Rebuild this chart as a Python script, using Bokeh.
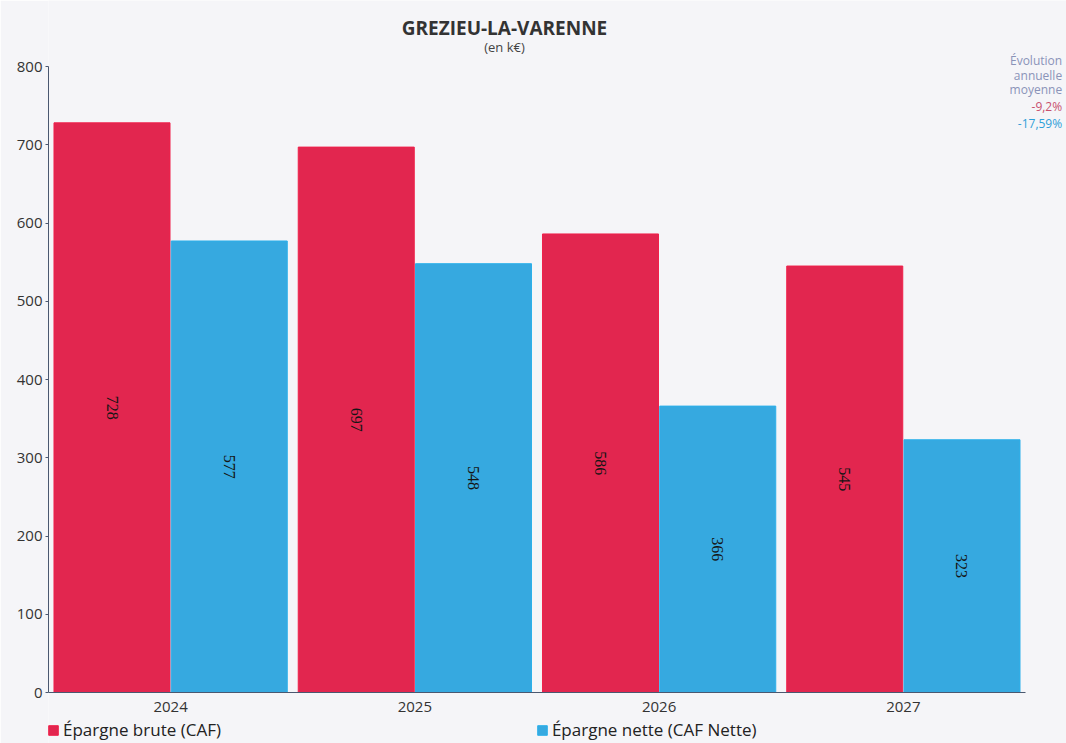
import math
from bokeh.plotting import figure
from bokeh.models import (ColumnDataSource, Range1d, LabelSet, Legend, LegendItem, Label,
                          FixedTicker)
from bokeh.embed import file_html
from bokeh.resources import INLINE

years = ["2024", "2025", "2026", "2027"]
brute = [728, 697, 586, 545]
nette = [577, 548, 366, 323]
y_ticks = [0, 100, 200, 300, 400, 500, 600, 700, 800]
series_names = ["Épargne brute (CAF)", "Épargne nette (CAF Nette)"]
title_text = "GREZIEU-LA-VARENNE"
subtitle_text = "(en k€)"
evol_title = ["Évolution", "annuelle", "moyenne"]
evol_values = ["-9,2%", "-17,59%"]

RED = "#e2264f"
BLUE = "#36a9e0"
FONT = "Open Sans"
BG = "#f5f5f8"
AXIS = "#4a5870"

# category positions on a numeric axis (one unit per year)
centers = [i + 0.5 for i in range(len(years))]
OFF = 0.24
src = ColumnDataSource(dict(
    xb=[c - OFF for c in centers], xn=[c + OFF for c in centers],
    brute=brute, nette=nette,
    brute_mid=[v / 2 for v in brute], nette_mid=[v / 2 for v in nette],
    brute_txt=[str(v) for v in brute], nette_txt=[str(v) for v in nette],
))

n = len(years)
# frame covers the canvas except the left y-label strip; axis bounds keep axes at data extent
x_end = n + 41 / 244.25
y_end = 800 + 66 / 0.7825
y_start = -51 / 0.7825

p = figure(width=1066, height=743, x_range=Range1d(0, x_end), y_range=Range1d(y_start, y_end),
           output_backend="svg", toolbar_location=None,
           min_border_left=48, min_border_right=0, min_border_top=0, min_border_bottom=0,
           background_fill_color=BG, border_fill_color=BG)
p.outline_line_color = None
p.grid.visible = False

r1 = p.vbar(x="xb", top="brute", width=0.475, source=src,
            fill_color=RED, line_color="#f0204a", line_width=1)
r2 = p.vbar(x="xn", top="nette", width=0.475, source=src,
            fill_color=BLUE, line_color="#2cb0ea", line_width=1)

for xcol, ycol, tcol in [("xb", "brute_mid", "brute_txt"), ("xn", "nette_mid", "nette_txt")]:
    p.add_layout(LabelSet(x=xcol, y=ycol, text=tcol, source=src,
                          angle=-math.pi / 2, text_align="center", text_baseline="middle",
                          text_font=FONT, text_font_size="16px", text_color="#151515"))

p.yaxis.ticker = FixedTicker(ticks=y_ticks)
p.yaxis.bounds = (0, 800)
p.yaxis.axis_line_color = AXIS
p.yaxis.major_tick_line_color = AXIS
p.yaxis.major_tick_out = 3
p.yaxis.major_tick_in = 0
p.yaxis.minor_tick_line_color = None
p.yaxis.major_label_text_font = FONT
p.yaxis.major_label_text_font_size = "15px"
p.yaxis.major_label_text_color = "#333333"
p.yaxis.major_label_standoff = 3

p.xaxis.fixed_location = 0
p.xaxis.bounds = (0, n)
p.xaxis.ticker = FixedTicker(ticks=centers)
p.xaxis.major_label_overrides = {c: y for c, y in zip(centers, years)}
p.xaxis.axis_line_color = AXIS
p.xaxis.major_tick_line_color = None
p.xaxis.minor_tick_line_color = None
p.xaxis.major_label_text_font = FONT
p.xaxis.major_label_text_font_size = "15px"
p.xaxis.major_label_text_color = "#333333"
p.xaxis.major_label_standoff = 3

# Titles
p.add_layout(Label(x=1.867, y=849, text=title_text, text_align="center",
                   text_baseline="middle", text_font=FONT, text_font_size="19px",
                   text_font_style="bold", text_color="#333333"))
p.add_layout(Label(x=1.867, y=825, text=subtitle_text, text_align="center",
                   text_baseline="middle", text_font=FONT, text_font_size="13px",
                   text_color="#444444"))

# Evolution annotation (top right)
lines = [(t, "#8a93b8") for t in evol_title] + list(zip(evol_values, ["#c8506e", "#2f9fd8"]))
y_pos = [808, 789, 770, 749, 727]
for (t, c), yy in zip(lines, y_pos):
    p.add_layout(Label(x=4.15, y=yy, text=t, text_align="right", text_baseline="middle",
                       text_font=FONT, text_font_size="12px", text_color=c))

# Legend at the bottom
lg = Legend(items=[LegendItem(label=series_names[0], renderers=[r1]),
                   LegendItem(label=series_names[1], renderers=[r2])],
            location=(-1, 2), orientation="horizontal", background_fill_alpha=0,
            border_line_color=None, padding=0, margin=0, spacing=315,
            glyph_width=12, glyph_height=12, label_standoff=4,
            label_text_font=FONT, label_text_font_size="17px", label_text_color="#222222",
            label_height=17)
p.add_layout(lg, "center")

open("out.html", "w").write(file_html(p, INLINE))
